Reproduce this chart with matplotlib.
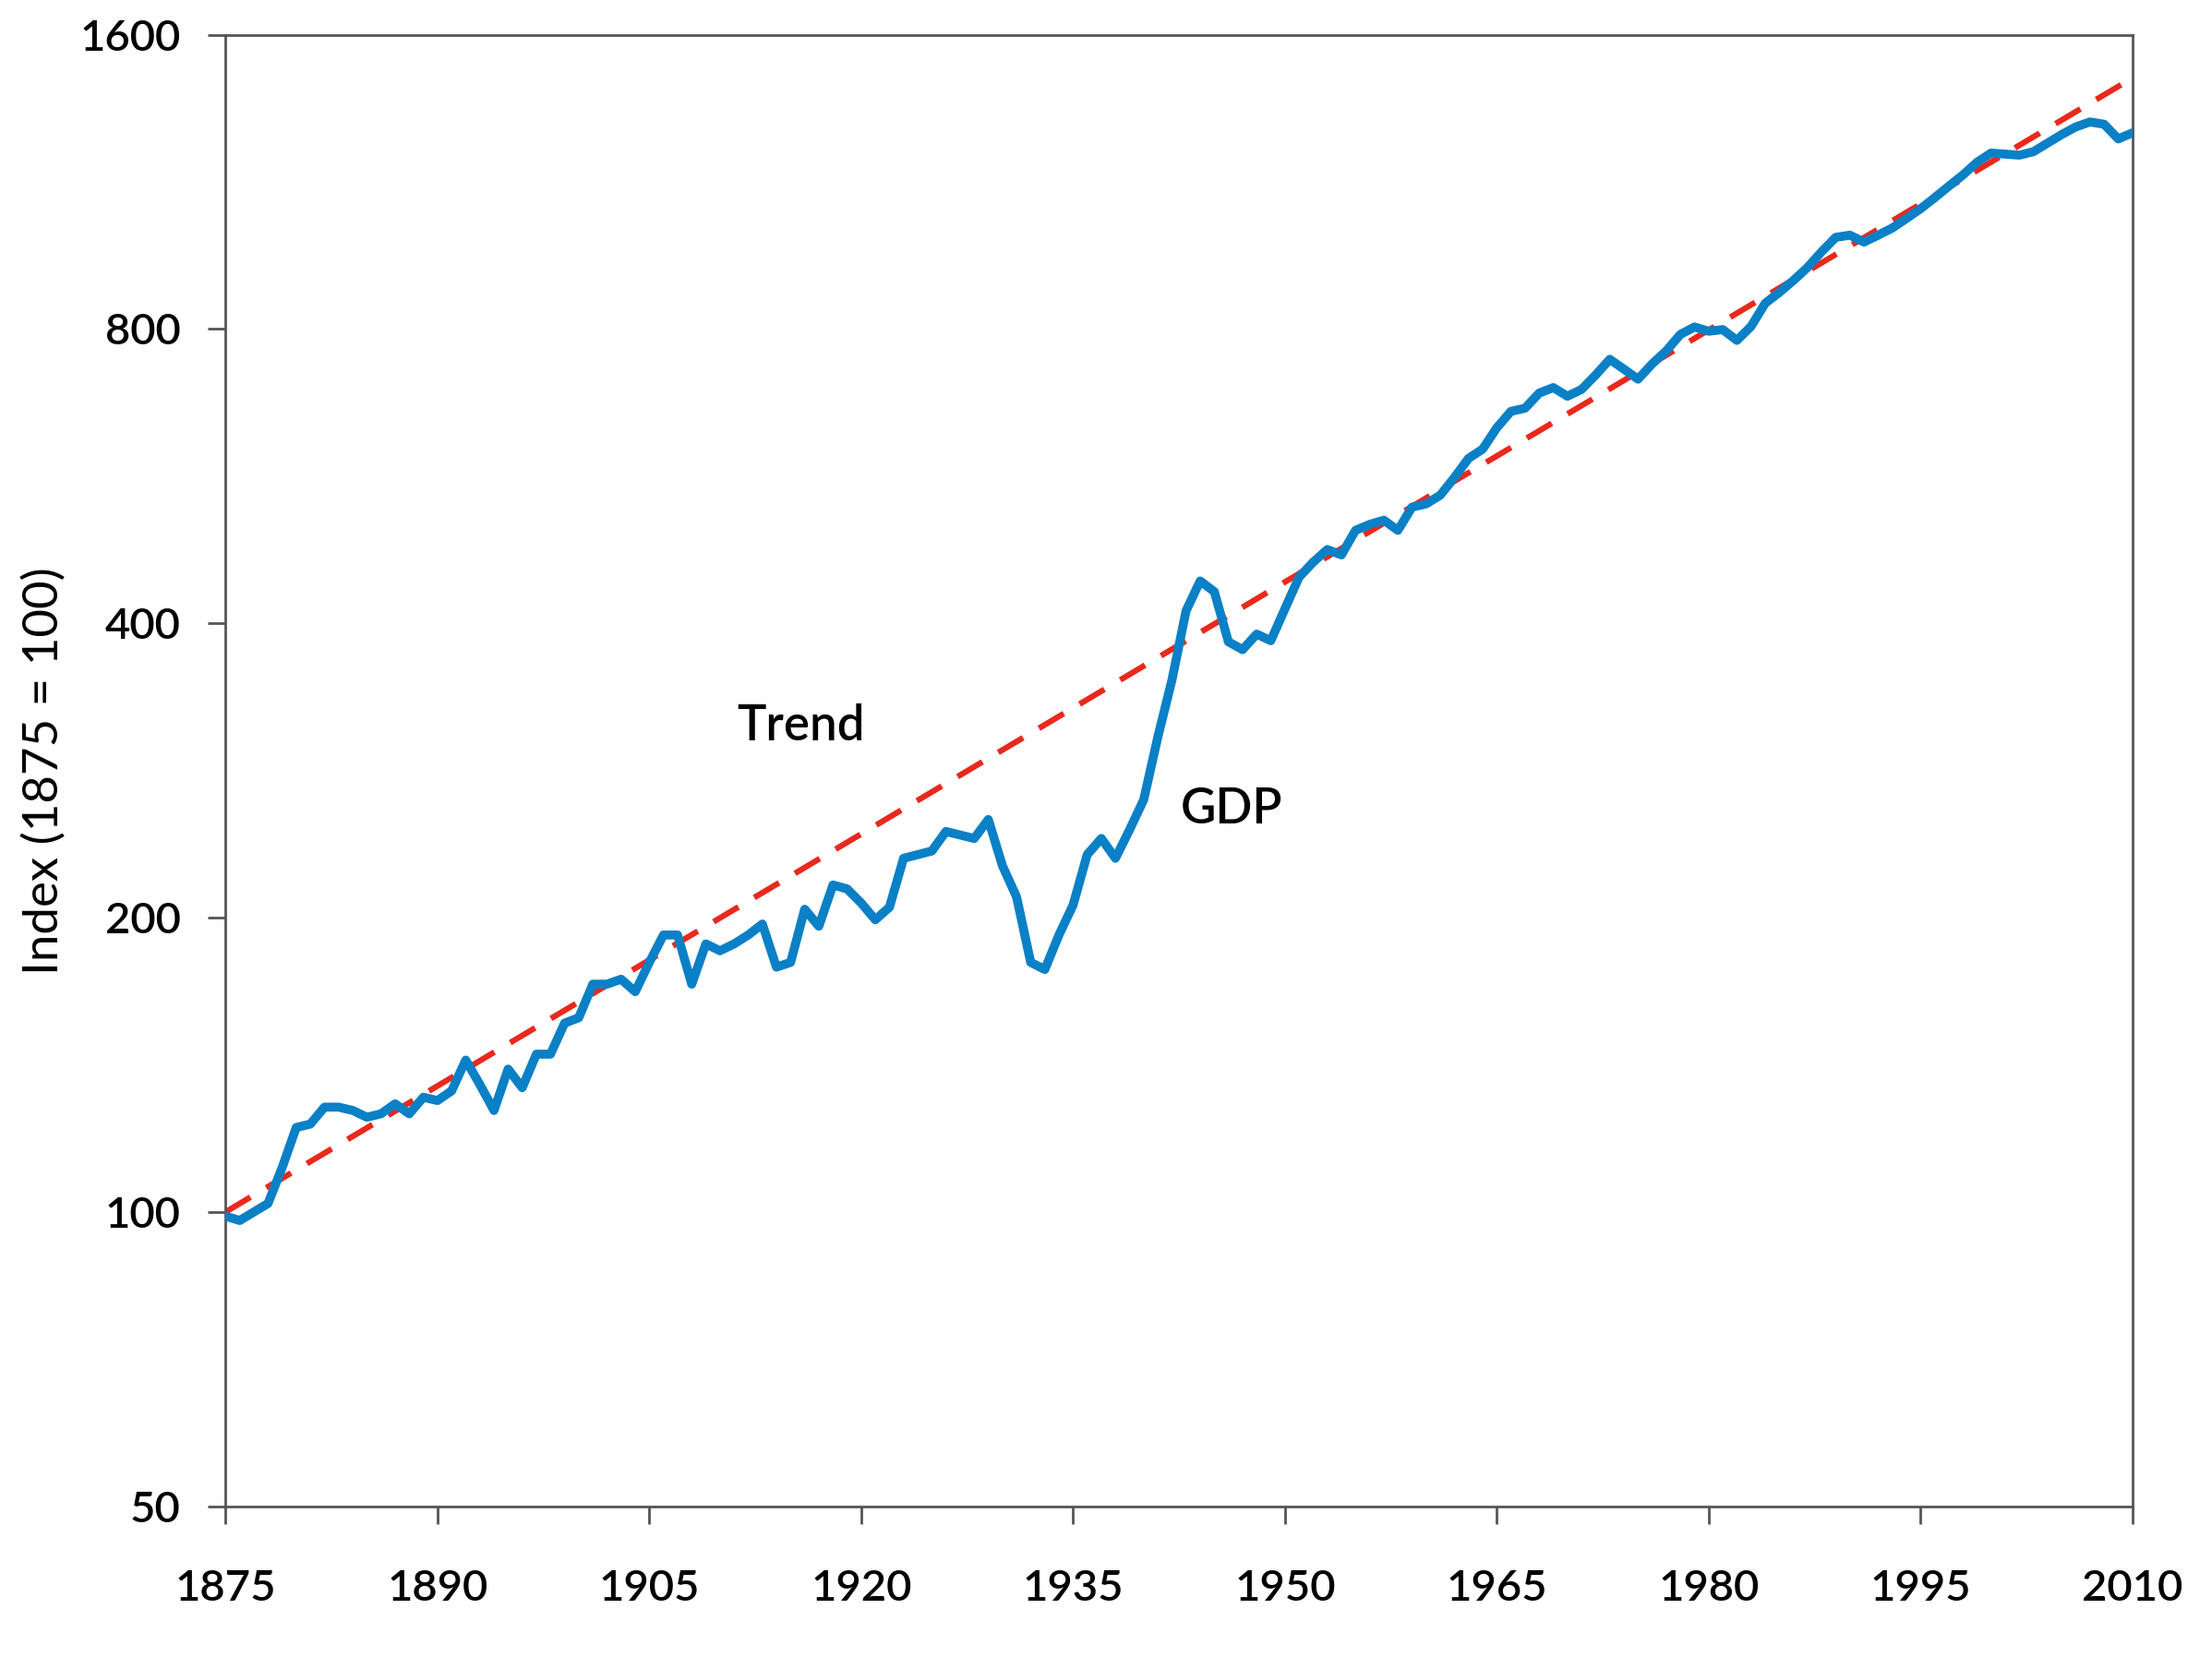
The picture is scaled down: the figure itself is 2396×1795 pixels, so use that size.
import matplotlib
matplotlib.use("Agg")
import matplotlib.pyplot as plt
from matplotlib.ticker import FixedLocator, NullLocator

# GDP index (1875 = 100)
years = list(range(1875, 2011))
gdp = [
    99, 98, 100, 102, 111, 122, 123, 128, 128, 127,        # 1875-1884
    125, 126, 129, 126, 131, 130, 133, 143, 135, 127,      # 1885-1894
    140, 134, 145, 145, 156, 158, 171, 171, 173, 168,      # 1895-1904
    180, 192, 192, 171, 188, 185, 188, 192, 197, 178,      # 1905-1914
    180, 204, 196, 216, 214, 207, 199, 205, 230, 232,      # 1915-1924
    234, 245, 243, 241, 252, 226, 210, 180, 177, 192,      # 1925-1934
    206, 232, 241, 230, 246, 264, 306, 350, 412, 442,      # 1935-1944
    431, 383, 376, 390, 384, 414, 446, 462, 476, 470,      # 1945-1954
    498, 505, 510, 498, 526, 530, 541, 564, 590, 603,      # 1955-1964
    634, 659, 664, 688, 697, 683, 694, 718, 745, 728,      # 1965-1974
    711, 737, 760, 790, 804, 796, 799, 779, 805, 850,      # 1975-1984
    872, 897, 925, 960, 993, 998, 982, 998, 1015, 1038,    # 1985-1994
    1062, 1090, 1120, 1150, 1185, 1211, 1208, 1205, 1215, 1240,  # 1995-2004
    1265, 1288, 1303, 1296, 1252, 1270,                    # 2005-2010
]

trend_years = [1875, 2010]
trend_vals = [100, 1445]

y_ticks = [50, 100, 200, 400, 800, 1600]
x_ticks = list(range(1875, 2011, 15))

plt.rcParams["font.family"] = ["Lato", "DejaVu Sans"]
plt.rcParams["font.weight"] = "semibold"

fig = plt.figure(figsize=(23.96, 17.95), dpi=100)
ax = fig.add_axes([0.102, 0.091, 0.862, 0.888])

ax.plot(trend_years, trend_vals, color="#E8291C", lw=4.5, ls=(0, (5, 3.2)), zorder=2)
ax.plot(years, gdp, color="#0A80C6", lw=7, solid_joinstyle="round", zorder=3)

ax.set_yscale("log")
ax.set_ylim(50, 1600)
ax.set_xlim(1875, 2010)
ax.yaxis.set_major_locator(FixedLocator(y_ticks))
ax.yaxis.set_minor_locator(NullLocator())
ax.set_yticklabels([str(v) for v in y_ticks])
ax.set_xticks(x_ticks)
ax.set_xticklabels([str(v) for v in x_ticks])

for s in ax.spines.values():
    s.set_color("#555555")
    s.set_linewidth(2)
ax.tick_params(axis="both", which="major", direction="out", length=14, width=2,
               color="#555555", labelsize=34)
ax.tick_params(axis="y", pad=21)
ax.tick_params(axis="x", pad=35)

ax.set_ylabel("Index (1875 = 100)", fontsize=38, labelpad=10)

ax.text(1915.7, 314, "Trend", fontsize=38, ha="center", va="center")
ax.text(1946.2, 258, "GDP", fontsize=38, ha="center", va="center")

fig.savefig("out.png", dpi=100, facecolor="white")
